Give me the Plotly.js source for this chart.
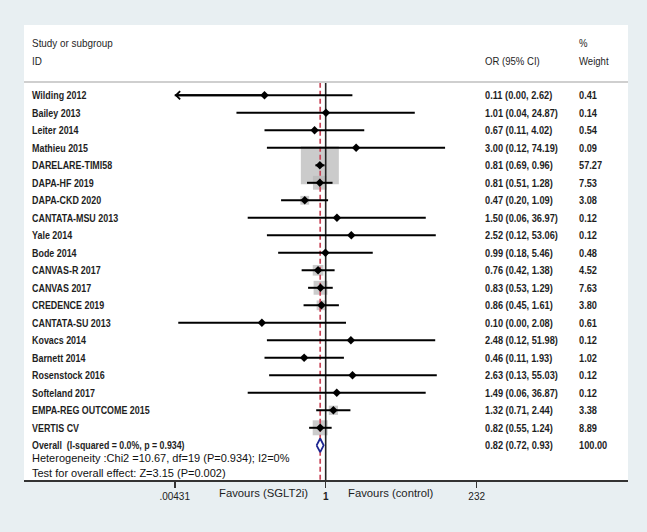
<!DOCTYPE html>
<html>
<head>
<meta charset="utf-8">
<script src="https://cdn.plot.ly/plotly-3.0.1.min.js"></script>
<style>html,body{margin:0;padding:0;background:#e8eff2;}#chart{width:647px;height:532px;}</style>
</head>
<body>
<div id="chart"></div>
<script>
// ---- data ----
const studies = ["Wilding 2012","Bailey 2013","Leiter 2014","Mathieu 2015","DARELARE-TIMI58","DAPA-HF 2019","DAPA-CKD 2020","CANTATA-MSU 2013","Yale 2014","Bode 2014","CANVAS-R 2017","CANVAS 2017","CREDENCE 2019","CANTATA-SU 2013","Kovacs 2014","Barnett 2014","Rosenstock 2016","Softeland 2017","EMPA-REG OUTCOME 2015","VERTIS CV"];
const orVals = [0.11,1.01,0.67,3.00,0.81,0.81,0.47,1.50,2.52,0.99,0.76,0.83,0.86,0.10,2.48,0.46,2.63,1.49,1.32,0.82];
const loVals = [0.003,0.04,0.11,0.12,0.69,0.51,0.20,0.06,0.12,0.18,0.42,0.53,0.45,0.0049,0.12,0.11,0.13,0.06,0.71,0.55];
const hiVals = [2.62,24.87,4.02,74.19,0.96,1.28,1.09,36.97,53.06,5.46,1.38,1.29,1.61,2.08,51.98,1.93,55.03,36.87,2.44,1.24];
const weights = [0.41,0.14,0.54,0.09,57.27,7.53,3.08,0.12,0.12,0.48,4.52,7.63,3.80,0.61,0.12,1.02,0.12,0.12,3.38,8.89];
const overall = {label:"Overall  (I-squared = 0.0%, p = 0.934)", or:0.82, lo:0.72, hi:0.93, weight:100.00};
const heterogeneityText = "Heterogeneity :Chi2 =10.67, df=19 (P=0.934); I2=0%";
const testText = "Test for overall effect: Z=3.15 (P=0.002)";
const tickVals = [0.00431, 1, 232];
const tickText = [".00431", "<b>1</b>", "232"];
const favLeft = "Favours (SGLT2i)";
const favRight = "Favours (control)";

// ---- layout helpers (styles / positions) ----
const FONT = "Liberation Sans, Arial, sans-serif";
const xMin = tickVals[0];
const yTop = -4.017, yBottom = 21.983, sepY = -0.76;
const xRange = [-4.7265, 4.7362];
const pxL = 24, pxW = 604;
const px = p => (p - pxL) / pxW;   // pixel -> paper x

const n = studies.length;
const rows = studies.map((_, i) => i);
const overallRow = n;

const sqTrace = {
  x: orVals, y: rows, type: "scatter", mode: "markers",
  marker: {symbol: "square", color: "#b5b5b5", size: weights.map(w => 38 * Math.sqrt(w / 57.27)), line: {width: 0}},
  hoverinfo: "skip", showlegend: false
};
const cx = [], cy = [];
for (let i = 0; i < n; i++) {
  cx.push(Math.max(loVals[i], xMin), hiVals[i], null);
  cy.push(i, i, null);
}
const ciTrace = {x: cx, y: cy, type: "scatter", mode: "lines", line: {color: "#000", width: 2}, hoverinfo: "skip", showlegend: false};
const ptTrace = {x: orVals, y: rows, type: "scatter", mode: "markers", marker: {symbol: "diamond", color: "#000", size: 6.5}, hoverinfo: "skip", showlegend: false};
const nullLine = {x: [1, 1], y: [sepY, yBottom], type: "scatter", mode: "lines", line: {color: "#222", width: 1.6}, hoverinfo: "skip", showlegend: false};
const ovLine = {x: [overall.or, overall.or], y: [sepY + 0.05, yBottom], type: "scatter", mode: "lines", line: {color: "#c9475a", width: 1.7, dash: "5px,3px"}, hoverinfo: "skip", showlegend: false};
const dh = 0.39;
const diaTrace = {
  x: [overall.lo, overall.or, overall.hi, overall.or, overall.lo],
  y: [overallRow, overallRow - dh, overallRow, overallRow + dh, overallRow],
  type: "scatter", mode: "lines", fill: "toself", fillcolor: "#ffffff",
  line: {color: "#1c2590", width: 1.8}, hoverinfo: "skip", showlegend: false
};

const ann = [];
const annScale = [];
const rowFont = {family: FONT, size: 11, color: "#1e1e1e"};
function txt(x, y, text, font, scale) {
  ann.push({xref: "paper", yref: "y", x: x, y: y, text: text, showarrow: false, xanchor: "left", yanchor: "middle", font: font, borderpad: 0});
  annScale.push(scale || 1);
}
const fmt = v => v.toFixed(2);
for (let i = 0; i < n; i++) {
  txt(px(31), i, "<b>" + studies[i] + "</b>", rowFont, 0.81);
  txt(px(483.5), i, "<b>" + fmt(orVals[i]) + " (" + fmt(loVals[i]) + ", " + fmt(hiVals[i]) + ")</b>", rowFont, 0.84);
  txt(px(578), i, "<b>" + fmt(weights[i]) + "</b>", rowFont, 0.84);
}
txt(px(31), overallRow, "<b>" + overall.label + "</b>", {family: FONT, size: 10, color: "#1e1e1e"}, 0.88);
txt(px(483.5), overallRow, "<b>" + fmt(overall.or) + " (" + fmt(overall.lo) + ", " + fmt(overall.hi) + ")</b>", rowFont, 0.84);
txt(px(578), overallRow, "<b>" + fmt(overall.weight) + "</b>", rowFont, 0.84);
const hdrFont = {family: FONT, size: 11, color: "#1e1e1e"};
txt(px(31), -2.97, "Study or subgroup", hdrFont, 0.9);
txt(px(31), -1.96, "ID", hdrFont, 0.9);
txt(px(483.5), -1.96, "OR (95% CI)", hdrFont, 0.87);
txt(px(578), -3.0, "%", hdrFont, 0.87);
txt(px(578), -1.96, "Weight", hdrFont, 0.87);
const bigFont = {family: FONT, size: 11, color: "#111"};
txt(px(31), 20.74, heterogeneityText, bigFont, 1);
txt(px(31), 21.6, testText, bigFont, 1);
ann.push({xref: "paper", yref: "paper", x: px(310), y: -0.029, text: favLeft, showarrow: false, xanchor: "right", yanchor: "middle", font: {family: FONT, size: 11.3, color: "#1e1e1e"}});
annScale.push(1);
ann.push({xref: "paper", yref: "paper", x: px(346), y: -0.029, text: favRight, showarrow: false, xanchor: "left", yanchor: "middle", font: {family: FONT, size: 11.3, color: "#1e1e1e"}});
annScale.push(1);
for (let i = 0; i < n; i++) {
  if (loVals[i] < xMin * 0.9) {
    ann.push({xref: "x", yref: "y", axref: "x", ayref: "y", x: Math.log10(xMin), y: i, ax: Math.log10(orVals[i]), ay: i,
      showarrow: true, arrowhead: 4, arrowsize: 0.8, arrowwidth: 2, arrowcolor: "#000", standoff: 0, text: ""});
    annScale.push(1);
  }
}

const layout = {
  width: 647, height: 532,
  margin: {l: pxL, r: 647 - 628, t: 25, b: 532 - 480, pad: 0},
  paper_bgcolor: "#e8eff2", plot_bgcolor: "#ffffff",
  showlegend: false, hovermode: false,
  xaxis: {type: "log", range: xRange, showgrid: false, zeroline: false, showline: true, linecolor: "#333", linewidth: 1.6,
    ticks: "outside", ticklen: 6, tickwidth: 1.6, tickcolor: "#333", tickvals: tickVals, ticktext: tickText,
    tickfont: {family: FONT, size: 10, color: "#222"}, fixedrange: true},
  yaxis: {range: [yBottom, yTop], visible: false, showgrid: false, zeroline: false, fixedrange: true},
  shapes: [{type: "line", xref: "paper", yref: "y", x0: 0, x1: 1, y0: sepY, y1: sepY, line: {color: "#cfcfcf", width: 2}}],
  annotations: ann
};

Plotly.newPlot("chart", [sqTrace, nullLine, ovLine, ciTrace, ptTrace, diaTrace], layout, {staticPlot: true, displayModeBar: false}).then(gd => {
  // condense the table text horizontally (the reference's text is horizontally compressed)
  gd.querySelectorAll("g.annotation").forEach(g => {
    const k = +g.getAttribute("data-index");
    const s = annScale[k];
    if (!s || s === 1) return;
    const t = g.querySelector("text.annotation-text");
    if (!t) return;
    const bb = t.getBBox();
    t.setAttribute("transform", "matrix(" + s + ",0,0,1," + (bb.x * (1 - s)) + ",0)");
  });
});
</script>
</body>
</html>
